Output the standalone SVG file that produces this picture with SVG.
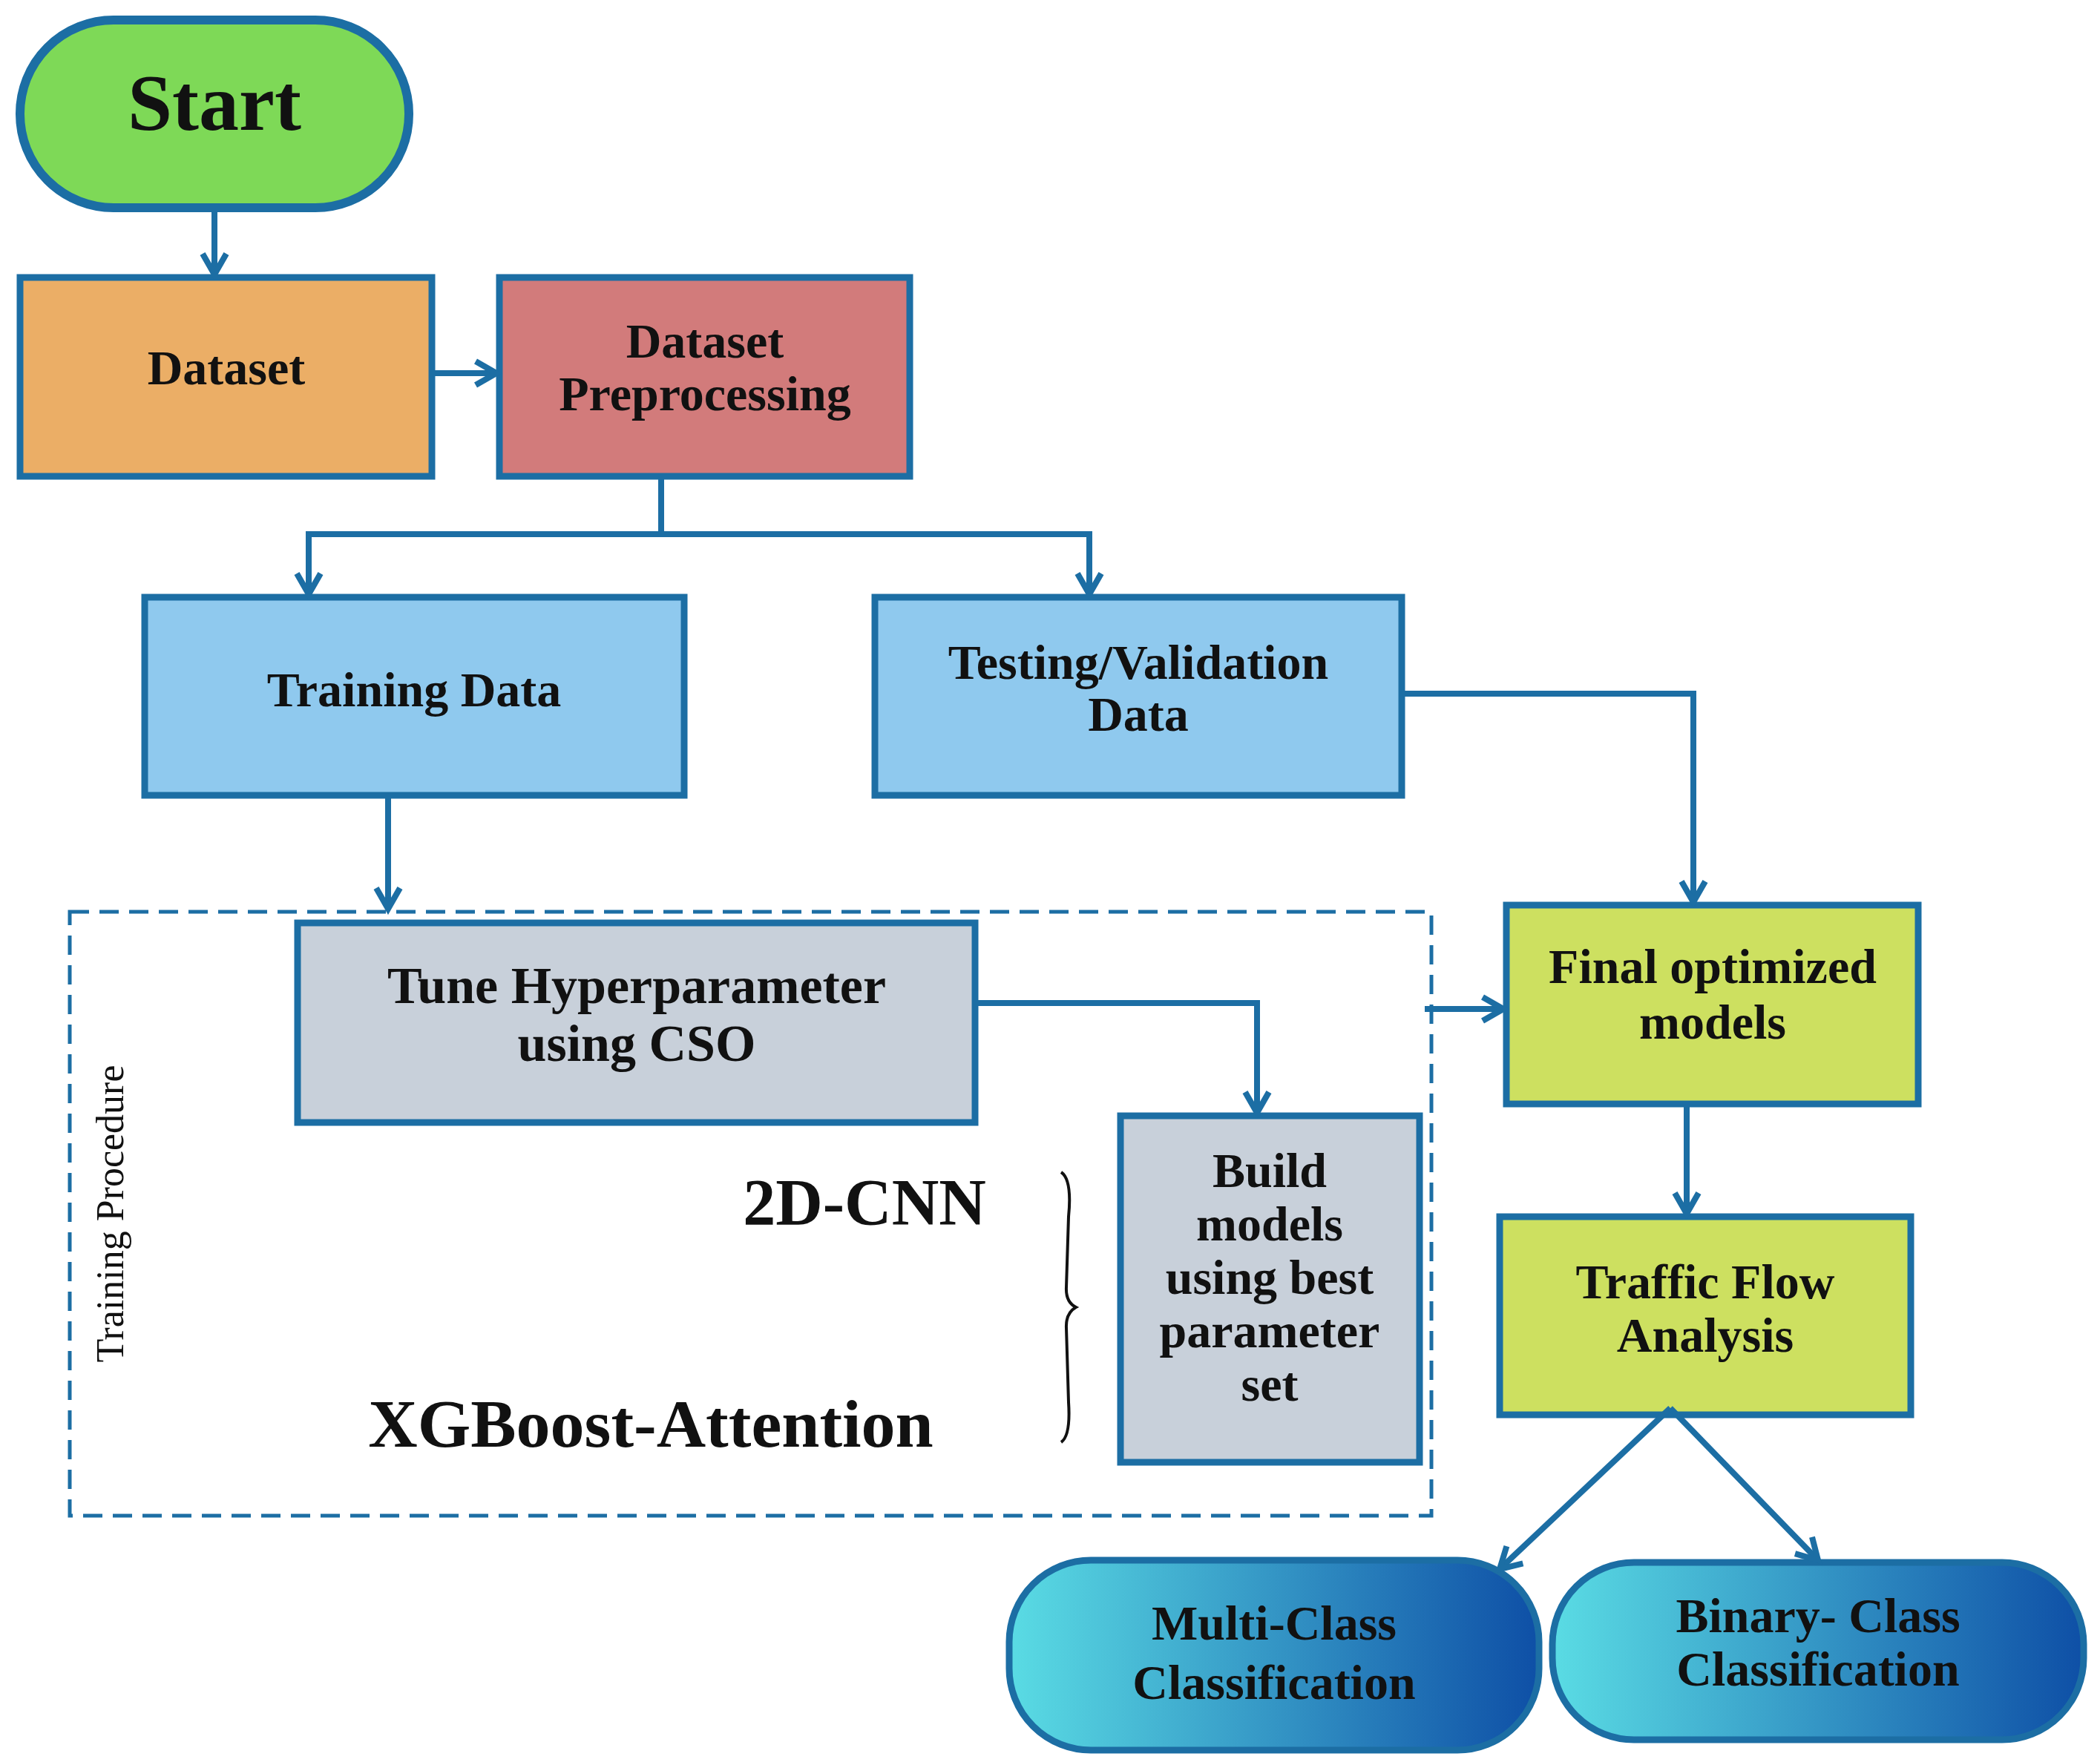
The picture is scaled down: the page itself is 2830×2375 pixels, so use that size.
<svg xmlns="http://www.w3.org/2000/svg" width="2830" height="2375" viewBox="0 0 2830 2375">
<style>
.b{stroke:#1C6EA4;stroke-width:9}
.t{font-family:"Liberation Serif",serif;font-weight:bold;font-size:66px;fill:#111;text-anchor:middle}
.c{fill:none;stroke:#1C6EA4;stroke-width:8}
</style>
<defs>
<marker id="a" viewBox="0 0 10 10" refX="8" refY="5" markerWidth="5" markerHeight="5" orient="auto"><path d="M1,1 L8,5 L1,9" fill="none" stroke="#1C6EA4" stroke-width="2"/></marker>
<linearGradient id="g" x1="0" x2="1" y1="0" y2="0"><stop offset="0" stop-color="#5ADCE4"/><stop offset="1" stop-color="#0E4FA6"/></linearGradient>
</defs>
<rect width="2830" height="2375" fill="#fff"/>
<g id="start"><rect x="27" y="27" width="524" height="253" rx="126" fill="#7ED957" stroke="#1C6EA4" stroke-width="12"/><text class="t" x="289" y="175" style="font-size:108px">Start</text></g>
<g id="dataset"><rect x="27" y="374" width="555" height="268" fill="#EBAE66" class="b"/><text class="t" x="305" y="518">Dataset</text></g>
<g id="preproc"><rect x="673" y="374" width="553" height="268" fill="#D27B7B" class="b"/><text class="t" x="950" y="482">Dataset</text><text class="t" x="950" y="553">Preprocessing</text></g>
<g id="train"><rect x="195" y="805" width="727" height="267" fill="#8FC9EE" class="b"/><text class="t" x="558" y="952">Training Data</text></g>
<g id="test"><rect x="1179" y="805" width="710" height="267" fill="#8FC9EE" class="b"/><text class="t" x="1534" y="915">Testing/Validation</text><text class="t" x="1534" y="985">Data</text></g>
<g id="proc"><rect x="94" y="1229" width="1835" height="814" fill="none" stroke="#1C6EA4" stroke-width="5" stroke-dasharray="26,14"/>
<text x="166" y="1636" transform="rotate(-90 166 1636)" font-family="Liberation Serif,serif" font-size="52" text-anchor="middle" fill="#111">Training Procedure</text>
<text class="t" x="1165" y="1650" style="font-size:88px">2D-CNN</text>
<text class="t" x="877" y="1950" style="font-size:92px">XGBoost-Attention</text>
<path d="M1430,1580 Q1445,1590 1440,1640 L1437,1735 Q1436,1755 1450,1762 Q1436,1770 1437,1790 L1440,1890 Q1443,1935 1430,1944" fill="none" stroke="#111" stroke-width="4"/></g>
<g id="tune"><rect x="401" y="1244" width="913" height="269" fill="#C8D0DA" class="b"/><text class="t" x="858" y="1352" style="font-size:70px">Tune Hyperparameter</text><text class="t" x="858" y="1430" style="font-size:70px">using CSO</text></g>
<g id="build"><rect x="1510" y="1504" width="403" height="467" fill="#C8D0DA" class="b"/><text class="t" x="1711" y="1600">Build</text><text class="t" x="1711" y="1672">models</text><text class="t" x="1711" y="1744">using best</text><text class="t" x="1711" y="1816">parameter</text><text class="t" x="1711" y="1888">set</text></g>
<g id="final"><rect x="2030" y="1220" width="555" height="268" fill="#CDE060" class="b"/><text class="t" x="2308" y="1325">Final optimized</text><text class="t" x="2308" y="1400">models</text></g>
<g id="traffic"><rect x="2021" y="1640" width="554" height="267" fill="#CDE060" class="b"/><text class="t" x="2298" y="1750">Traffic Flow</text><text class="t" x="2298" y="1822">Analysis</text></g>
<g id="multi"><rect x="1360" y="2103" width="714" height="256" rx="110" fill="url(#g)" class="b"/><text class="t" x="1717" y="2210">Multi-Class</text><text class="t" x="1717" y="2290">Classification</text></g>
<g id="binary"><rect x="2092" y="2106" width="716" height="239" rx="110" fill="url(#g)" class="b"/><text class="t" x="2450" y="2200">Binary- Class</text><text class="t" x="2450" y="2272">Classification</text></g>
<g id="connectors">
<path class="c" d="M289,280 V370" marker-end="url(#a)"/>
<path class="c" d="M582,503 H669" marker-end="url(#a)"/>
<path class="c" d="M891,642 V720 M416,720 H1468 M416,716 V800 M1468,716 V800" />
<path class="c" d="M416,760 V801" marker-end="url(#a)"/>
<path class="c" d="M1468,760 V801" marker-end="url(#a)"/>
<path class="c" d="M523,1072 V1225" marker-end="url(#a)"/>
<path class="c" d="M1889,935 H2282 V1216" stroke-width="5" marker-end="url(#a)"/>
<path class="c" d="M1314,1352 H1694 V1500" stroke-width="12" marker-end="url(#a)"/>
<path class="c" d="M1920,1360 H2026" stroke-width="5" marker-end="url(#a)"/>
<path class="c" d="M2273,1488 V1636" marker-end="url(#a)"/>
<path class="c" d="M2251,1898 L2021,2115" marker-end="url(#a)"/>
<path class="c" d="M2251,1898 L2450,2103" marker-end="url(#a)"/>
</g>
</svg>
